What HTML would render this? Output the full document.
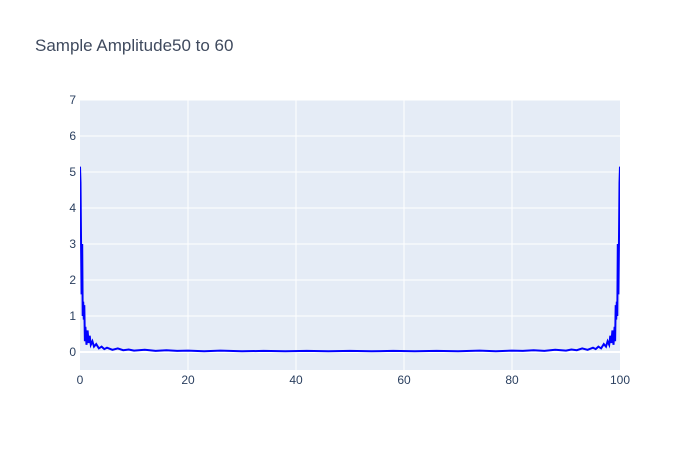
<!DOCTYPE html>
<html><head><meta charset="utf-8"><style>
body{margin:0;background:#fff;font-family:"Liberation Sans",sans-serif;}
svg text{font-family:"Liberation Sans",sans-serif;}
</style></head><body>
<svg id="chart" width="700" height="450">
<rect width="700" height="450" fill="#fff"/>
<text x="35" y="51" font-size="17" fill="#3f4a5e">Sample Amplitude50 to 60</text>
<rect x="80" y="100" width="540" height="270" fill="#e5ecf6"/>
<g id="grid"></g><g id="ticks"></g>
<g clip-path="url(#clip)"><path id="line" fill="none" stroke="#0000ff" stroke-width="2"/></g>
<defs><clipPath id="clip"><rect x="80" y="100" width="540" height="270"/></clipPath></defs>
</svg>
<script>
const xTicks=[0,20,40,60,80,100];
const yTicks=[0,1,2,3,4,5,6,7];
const xs=[0,0.1,0.2,0.3,0.4,0.5,0.6,0.7,0.8,0.9,1.0,1.2,1.4,1.6,1.8,2,2.3,2.6,3,3.5,4,4.5,5,6,7,8,9,10,12,14,16,18,20,23,26,30,34,38,42,46,50,54,58,62,66,70,74,77,80,82,84,86,88,90,91,92,93,94,95,95.5,96,96.5,97,97.4,97.7,98,98.2,98.4,98.6,98.8,99,99.1,99.2,99.3,99.4,99.5,99.6,99.7,99.8,99.9,100];
const ys=[5.15,4.7,2.9,1.6,3.0,1.0,1.4,0.9,1.3,0.3,0.7,0.2,0.6,0.25,0.45,0.2,0.3,0.15,0.22,0.1,0.15,0.08,0.12,0.06,0.1,0.05,0.07,0.04,0.06,0.03,0.05,0.03,0.04,0.02,0.04,0.02,0.03,0.02,0.03,0.02,0.03,0.02,0.03,0.02,0.03,0.02,0.04,0.02,0.04,0.03,0.05,0.03,0.06,0.04,0.07,0.05,0.1,0.06,0.12,0.08,0.15,0.1,0.22,0.15,0.3,0.2,0.45,0.25,0.6,0.2,0.7,0.3,1.3,0.9,1.4,1.0,3.0,1.6,2.9,4.7,5.15];
const X=v=>80+v*5.4, Y=v=>352-v*36;
const ns="http://www.w3.org/2000/svg";
const grid=document.getElementById('grid'), tk=document.getElementById('ticks');
xTicks.forEach(t=>{
 if(t>0&&t<100){const l=document.createElementNS(ns,'line');
 
 
 l.setAttribute('x1',X(t));l.setAttribute('x2',X(t));l.setAttribute('y1',100);l.setAttribute('y2',370);l.setAttribute('stroke','#fff');l.setAttribute('stroke-width','1');grid.appendChild(l);}
 const s=document.createElementNS(ns,'text');
 
 
 s.setAttribute('x',X(t));s.setAttribute('y',384);s.setAttribute('text-anchor','middle');s.setAttribute('font-size','12');s.setAttribute('fill','#2a3f5f');s.textContent=t;tk.appendChild(s);
});
yTicks.forEach(t=>{
 const l=document.createElementNS(ns,'line');
 
 
 l.setAttribute('x1',80);l.setAttribute('x2',620);l.setAttribute('y1',Y(t));l.setAttribute('y2',Y(t));l.setAttribute('stroke','#fff');l.setAttribute('stroke-width',t===0?'2':'1');grid.appendChild(l);
 const s=document.createElementNS(ns,'text');
 
 
 s.setAttribute('x',76);s.setAttribute('y',Y(t)+4);s.setAttribute('text-anchor','end');s.setAttribute('font-size','12');s.setAttribute('fill','#2a3f5f');s.textContent=t;tk.appendChild(s);
});
const n=Math.min(xs.length,ys.length);
document.getElementById('line').setAttribute('d',xs.slice(0,n).map((x,i)=>(i?'L':'M')+X(x).toFixed(1)+','+Y(ys[i]).toFixed(1)).join(''));
</script>
</body></html>
